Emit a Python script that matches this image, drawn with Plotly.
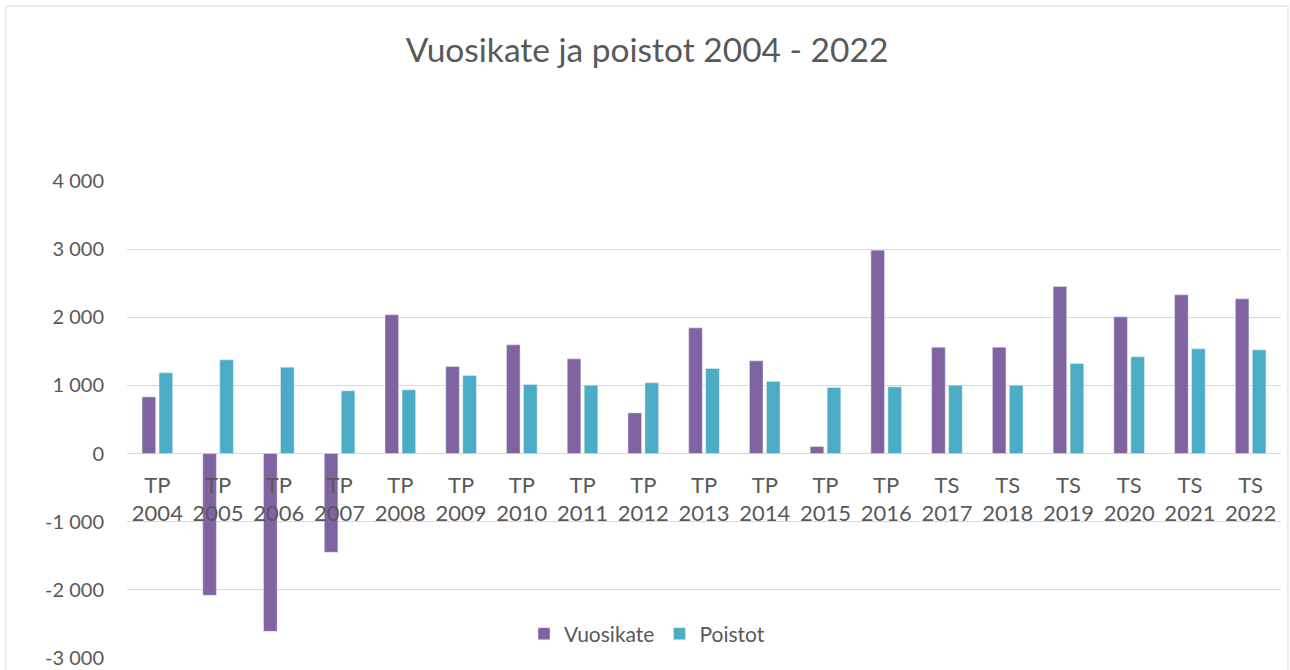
import plotly.graph_objects as go

categories = ["TP<br>2004", "TP<br>2005", "TP<br>2006", "TP<br>2007", "TP<br>2008", "TP<br>2009",
              "TP<br>2010", "TP<br>2011", "TP<br>2012", "TP<br>2013", "TP<br>2014", "TP<br>2015",
              "TP<br>2016", "TS<br>2017", "TS<br>2018", "TS<br>2019", "TS<br>2020", "TS<br>2021",
              "TS<br>2022"]
vuosikate = [832, -2080, -2609, -1449, 2037, 1277, 1596, 1390, 597, 1845, 1361, 103,
             2985, 1561, 1561, 2452, 2007, 2330, 2271]
poistot = [1185, 1376, 1267, 921, 935, 1145, 1013, 1003, 1038, 1248, 1057, 969,
           979, 1003, 1003, 1322, 1420, 1537, 1522]
y_tickvals = [-3000, -2000, -1000, 0, 1000, 2000, 3000, 4000]
y_ticktext = ["-3 000", "-2 000", "-1 000", "0", "1 000", "2 000", "3 000", "4 000"]

FONT = "Lato, 'Open Sans', sans-serif"
GRAY = "#595959"

fig = go.Figure()
fig.add_trace(go.Bar(name="Vuosikate", x=categories, y=vuosikate, marker_color="#8064A2"))
fig.add_trace(go.Bar(name="Poistot", x=categories, y=poistot, marker_color="#4BACC6"))

ymin, ymax = -3000, 4000
fig.update_layout(
    width=1290, height=670,
    margin=dict(l=127, r=9, t=181, b=12, autoexpand=False),
    paper_bgcolor="white", plot_bgcolor="white",
    barmode="group", bargap=0.44, bargroupgap=0.2,
    title=dict(text="Vuosikate ja poistot 2004 - 2022", x=647 / 1290, xref="container",
               xanchor="center", y=(670 - 50) / 670, yref="container", yanchor="middle",
               font=dict(family=FONT, size=33.5, color=GRAY)),
    font=dict(family=FONT, color=GRAY),
    legend=dict(orientation="h", x=(647 - 127) / 1154, xanchor="center",
                y=(658 - 634) / 477, yanchor="middle",
                font=dict(family=FONT, size=21, color=GRAY), bgcolor="rgba(0,0,0,0)"),
    xaxis=dict(anchor="free", position=(0 - ymin) / (ymax - ymin), showgrid=False,
               showline=False, ticks="", automargin=False,
               tickfont=dict(family=FONT, size=22, color=GRAY), ticklabelstandoff=16),
    yaxis=dict(range=[ymin, ymax], tickvals=y_tickvals, ticktext=y_ticktext, automargin=False,
               showgrid=True, gridcolor="#d9d9d9", gridwidth=1, zeroline=True,
               zerolinecolor="#d9d9d9", zerolinewidth=1, showline=False, ticks="",
               ticklabelstandoff=22, tickfont=dict(family=FONT, size=20, color=GRAY)),
    shapes=[dict(type="rect", xref="paper", yref="paper",
                 x0=(6 - 127) / 1154, x1=(1288 - 127) / 1154,
                 y0=(658 - 690) / 477, y1=(658 - 6) / 477,
                 line=dict(color="#d9d9d9", width=1), fillcolor="rgba(0,0,0,0)", layer="below")],
)

fig.write_html("out.html", config={"displayModeBar": False},
               post_script="document.body.style.margin='0';")
